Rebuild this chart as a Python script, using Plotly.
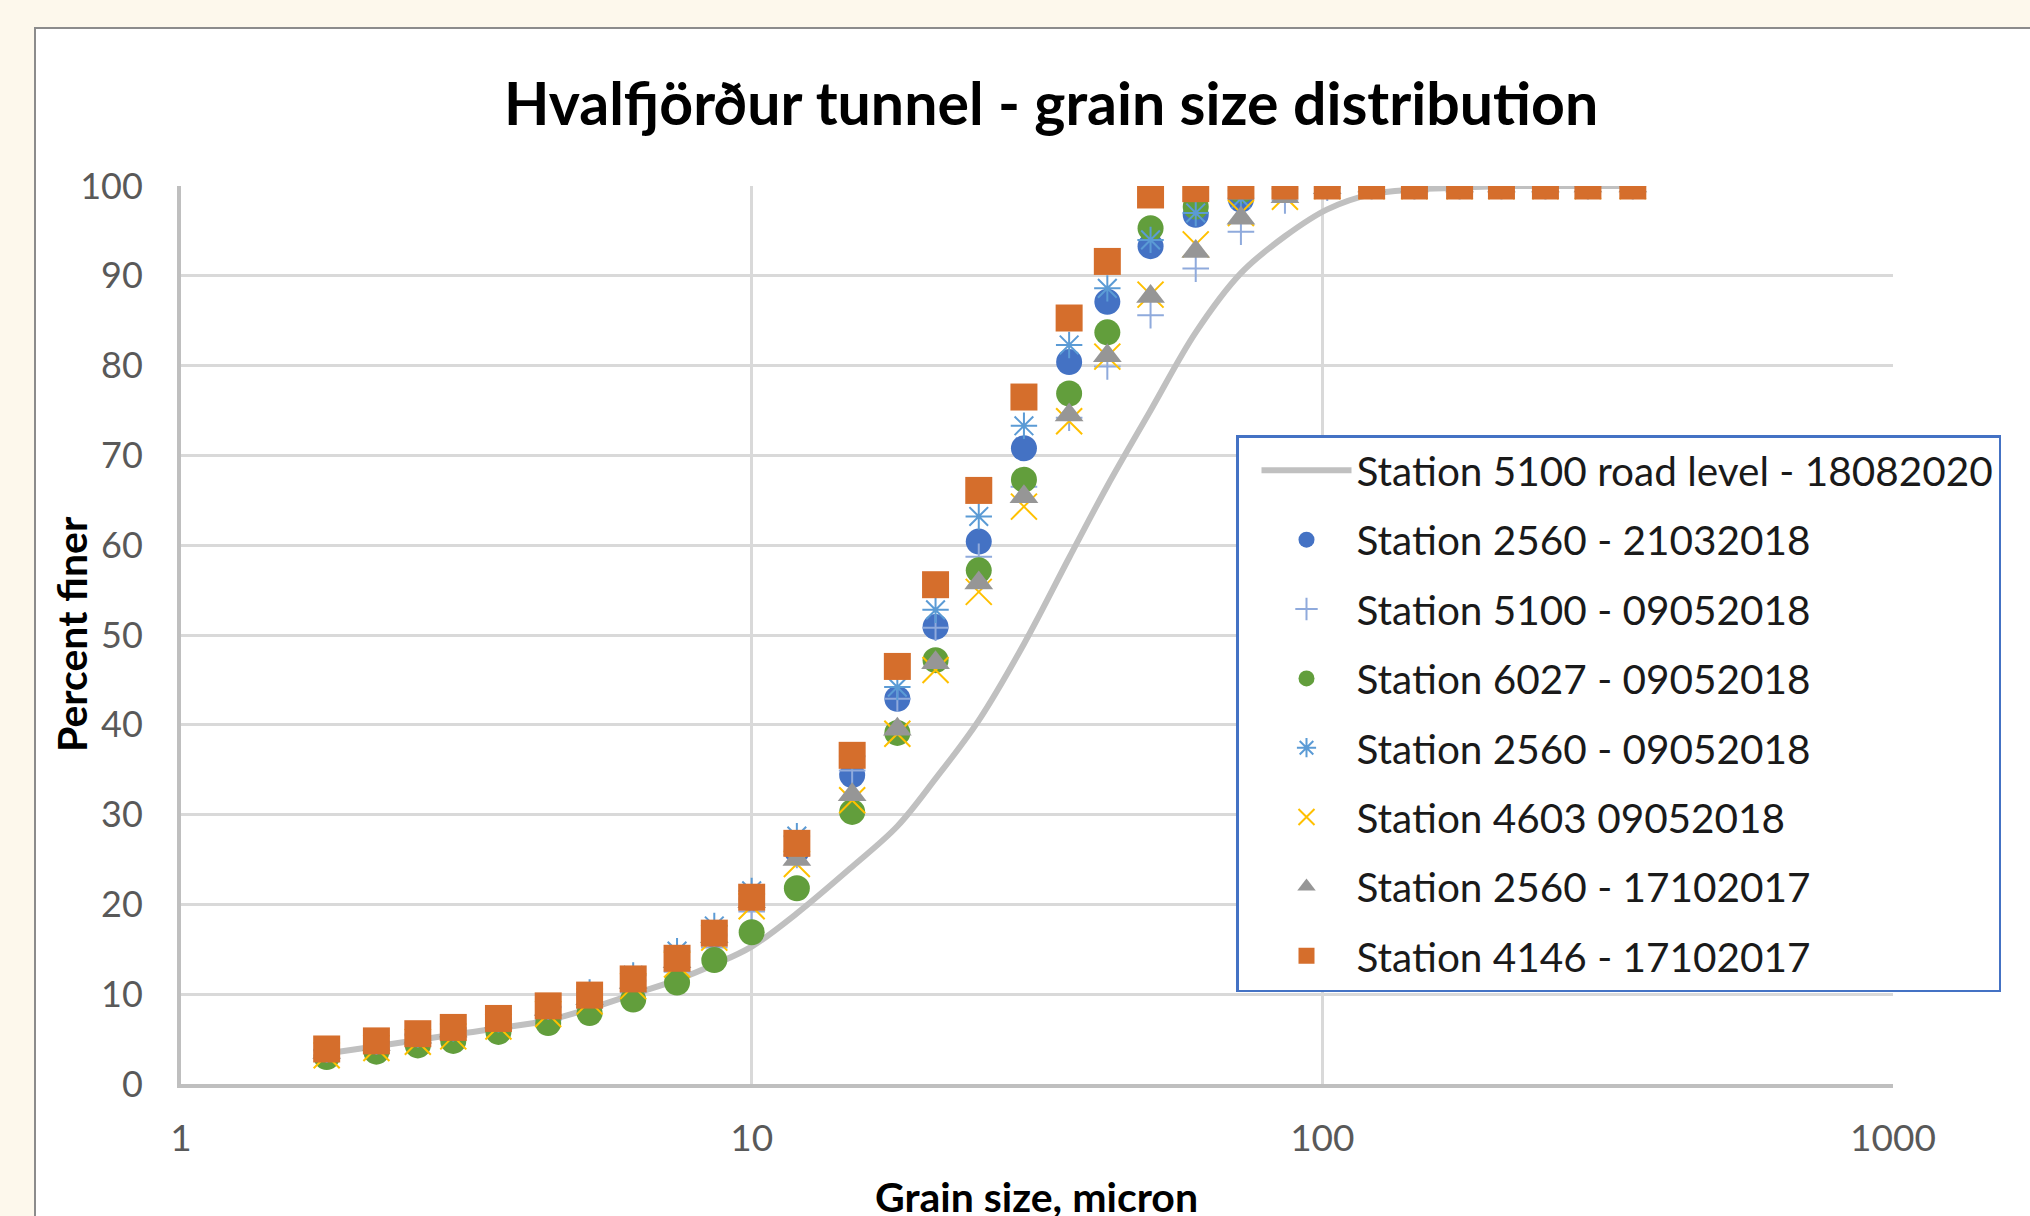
import plotly.graph_objects as go

# ---------------- data ----------------
grain_size = [1.8, 2.2, 2.6, 3.0, 3.6, 4.4, 5.2, 6.2, 7.4, 8.6, 10, 12, 15, 18, 21, 25, 30,
              36, 42, 50, 60, 72, 86, 102, 122, 145, 174, 206, 246, 292, 350]

st5100_road_18082020 = [3.4, 4.2, 4.9, 5.5, 6.2, 7.1, 8.4, 10.0, 11.6, 13.3, 15.3, 19.0, 24.2, 28.7,
                        34.0, 40.5, 49.0, 58.6, 66.6, 75.0, 83.7, 90.3, 94.4, 97.4, 99.1, 99.6,
                        99.8, 100, 100, 100, 100]
st2560_21032018 = [3.7, 4.6, 5.4, 6.1, 7.1, 8.5, 9.7, 11.5, 13.8, 16.6, 20.6, 26.0, 34.4, 42.9,
                   50.9, 60.4, 70.8, 80.4, 87.1, 93.3, 96.8, 98.5, 99.7, 100, 100, 100, 100,
                   100, 100, 100, 100]
st5100_09052018 = [3.2, 4.0, 4.7, 5.2, 6.2, 7.1, 8.5, 10.2, 12.5, 15.2, 19.2, 25.5, 34.9, 42.9,
                   50.8, 58.7, 66.5, 74.2, 79.9, 85.6, 90.8, 94.9, 98.4, 99.8, 100, 100, 100,
                   100, 100, 100, 100]
st6027_09052018 = [3.0, 3.6, 4.3, 4.8, 5.8, 6.8, 7.9, 9.4, 11.3, 13.8, 16.9, 21.8, 30.3, 39.1,
                   47.2, 57.2, 67.3, 76.9, 83.7, 95.3, 97.7, 99.5, 100, 100, 100, 100, 100,
                   100, 100, 100, 100]
st2560_09052018 = [3.8, 4.7, 5.5, 6.2, 7.2, 8.6, 10.2, 12.1, 14.8, 17.6, 21.5, 27.6, 36.5, 44.2,
                   52.8, 63.2, 73.3, 82.3, 88.6, 94.0, 97.0, 98.6, 99.7, 100, 100, 100, 100,
                   100, 100, 100, 100]
st4603_09052018 = [3.2, 4.0, 4.7, 5.3, 6.4, 7.8, 9.2, 10.9, 13.3, 16.3, 19.8, 24.5, 31.6, 39.0,
                   46.1, 54.8, 64.3, 73.8, 81.0, 87.9, 93.5, 97.0, 98.8, 100, 100, 100, 100,
                   100, 100, 100, 100]
st2560_17102017 = [3.5, 4.4, 5.2, 5.9, 6.9, 8.3, 9.5, 11.3, 13.6, 16.4, 20.3, 25.0, 32.2, 39.5,
                   46.9, 55.8, 65.4, 74.5, 81.1, 87.7, 92.7, 96.4, 98.8, 99.8, 100, 100, 100,
                   100, 100, 100, 100]
st4146_17102017 = [3.9, 4.8, 5.6, 6.3, 7.3, 8.7, 9.9, 11.7, 14.0, 16.8, 20.8, 26.8, 36.6, 46.5,
                   55.6, 66.1, 76.5, 85.3, 91.6, 99.0, 99.7, 100, 100, 100, 100, 100, 100,
                   100, 100, 100, 100]

x_tick_vals = [1, 10, 100, 1000]
x_tick_text = ["1", "10", "100", "1000"]
y_tick_vals = [0, 10, 20, 30, 40, 50, 60, 70, 80, 90, 100]

title_text = "Hvalfjörður tunnel - grain size distribution"
x_title = "Grain size, micron"
y_title = "Percent finer"

# ---------------- figure ----------------
W, H = 2030, 1216
L, R, T, B = 181, 137, 186, 132
PW, PH = W - L - R, H - T - B
PAGE_BG = "#FDF8EC"


def px_to_paper_x(px):
    return (px - L) / PW


def px_to_paper_y(py):
    return (H - B - py) / PH


FONT = "Lato"
fig = go.Figure()

fig.add_trace(go.Scatter(
    x=grain_size, y=st5100_road_18082020, mode="lines",
    name="Station 5100 road level - 18082020", legendgroup="g1",
    line=dict(color="#C0C0C0", width=6, shape="spline", smoothing=1.0)))

series = [
    ("Station 2560 - 21032018", st2560_21032018,
     dict(symbol="circle", size=26, color="#4472C4", line=dict(width=0))),
    ("Station 5100 - 09052018", st5100_09052018,
     dict(symbol="cross-thin", size=19, color="#8FAADC", line=dict(width=2, color="#8FAADC"))),
    ("Station 6027 - 09052018", st6027_09052018,
     dict(symbol="circle", size=26, color="#629E3C", line=dict(width=0))),
    ("Station 2560 - 09052018", st2560_09052018,
     dict(symbol="asterisk", size=22, color="#5B9BD5", line=dict(width=2, color="#5B9BD5"))),
    ("Station 4603 09052018", st4603_09052018,
     dict(symbol="x-thin", size=26, color="#FFC000", line=dict(width=2, color="#FFC000"))),
    ("Station 2560 - 17102017", st2560_17102017,
     dict(symbol="triangle-up", size=25, color="#969696", line=dict(width=0))),
    ("Station 4146 - 17102017", st4146_17102017,
     dict(symbol="square", size=27, color="#D56E2C", line=dict(width=0))),
]
for i, (name, vals, mk) in enumerate(series):
    fig.add_trace(go.Scatter(x=grain_size, y=vals, mode="markers", name=name,
                             legendgroup=f"g{i + 2}", marker=mk))

axis_common = dict(
    showgrid=True, gridcolor="#D9D9D9", gridwidth=2.5,
    showline=True, linecolor="#BFBFBF", linewidth=4,
    zeroline=False, ticks="",
)

fig.update_xaxes(type="log", range=[0, 3], tickvals=x_tick_vals, ticktext=x_tick_text,
                 ticklabelstandoff=19, tickfont=dict(family=FONT, size=37, color="#595959"),
                 **axis_common)
fig.update_yaxes(range=[0, 100], tickvals=y_tick_vals, ticklabelstandoff=27,
                 tickfont=dict(family=FONT, size=36, color="#595959"), **axis_common)

fig.update_layout(
    width=W, height=H, autosize=False,
    margin=dict(l=L, r=R, t=T, b=B, pad=0),
    paper_bgcolor=PAGE_BG, plot_bgcolor="#FFFFFF",
    font=dict(family=FONT, color="#000000"),
    showlegend=True,
    legend=dict(
        x=px_to_paper_x(1236), y=px_to_paper_y(435), xanchor="left", yanchor="top",
        bgcolor="#FFFFFF", bordercolor="#4472C4", borderwidth=2.5,
        font=dict(family=FONT, size=40.5, color="#1A1A1A"),
        tracegroupgap=13.7, itemwidth=90, indentation=18,
    ),
    shapes=[dict(type="rect", xref="paper", yref="paper", layer="below",
                 x0=px_to_paper_x(35), x1=px_to_paper_x(2060),
                 y0=px_to_paper_y(1260), y1=px_to_paper_y(28),
                 fillcolor="#FFFFFF", line=dict(color="#8C8C8C", width=2))],
    annotations=[
        dict(text=f"<b>{title_text}</b>", xref="paper", yref="paper",
             x=px_to_paper_x(1051), y=px_to_paper_y(102), xanchor="center", yanchor="middle",
             showarrow=False, font=dict(family=FONT, size=59, color="#000000")),
        dict(text=f"<b>{y_title}</b>", xref="paper", yref="paper", textangle=-90,
             x=px_to_paper_x(71), y=px_to_paper_y(634), xanchor="center", yanchor="middle",
             showarrow=False, font=dict(family=FONT, size=41, color="#000000")),
        dict(text=f"<b>{x_title}</b>", xref="paper", yref="paper",
             x=px_to_paper_x(1036), y=px_to_paper_y(1196), xanchor="center", yanchor="middle",
             showarrow=False, font=dict(family=FONT, size=41, color="#000000")),
    ],
)

fig.write_html(
    "out.html",
    config={"displayModeBar": False},
    post_script=(f"document.body.style.margin='0';"
                 f"document.body.style.background='{PAGE_BG}';"
                 f"document.documentElement.style.background='{PAGE_BG}';"),
)
